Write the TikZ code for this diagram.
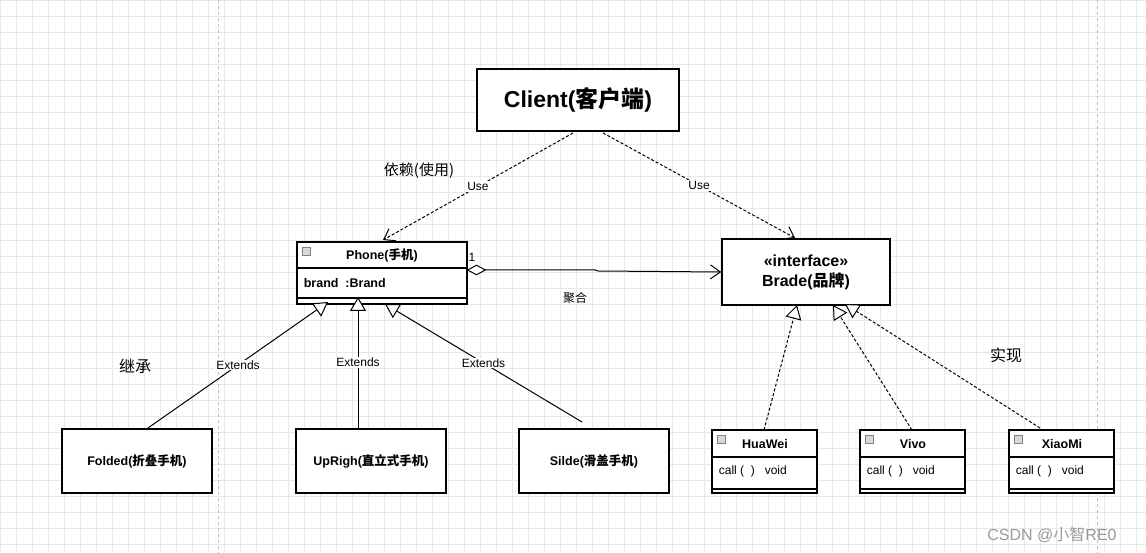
\documentclass[tikz,border=0pt]{standalone}
\usepackage{fontspec}
\setmainfont{Liberation Sans}
\newfontfamily\cjk{Noto Sans CJK SC}
\usetikzlibrary{arrows.meta,shapes.geometric}
\begin{document}
\begin{tikzpicture}[x=1pt,y=-1pt,line width=1pt,
  box/.style={draw,line width=1.4pt,fill=white},
  use/.style={densely dashed,-{Straight Barb[length=10pt,width=14pt]}},
  ext/.style={-{Triangle[open,length=14pt,width=16pt,fill=white]}},
  real/.style={densely dashed,-{Triangle[open,length=14pt,width=16pt,fill=white]}},
  lbl/.style={font=\fontsize{12}{13}\selectfont,fill=white,inner sep=1pt},
  cls/.style={font=\bfseries\fontsize{12.5}{14}\selectfont},
  att/.style={font=\fontsize{12.5}{14}\selectfont,anchor=west},
  icon/.style={draw=gray,fill=gray!30,minimum size=8pt,inner sep=0pt,line width=0.6pt}]
\useasboundingbox (0,0) rectangle (1146,553);
\fill[white] (0,0) rectangle (1146,553);
\foreach \i in {0,16,...,1146} \draw[black!9,line width=0.6pt] (\i,0)--(\i,553);
\foreach \i in {0,16,...,553} \draw[black!9,line width=0.6pt] (0,\i)--(1146,\i);
\draw[black!25,dashed,line width=0.8pt] (218,0)--(218,553) (1097,0)--(1097,553);
% Client
\node[box,minimum width=202pt,minimum height=62pt,font=\bfseries\fontsize{23}{26}\selectfont] (client) at (578,100) {Client({\cjk 客户端})};
% Phone
\draw[box] (297,242) rectangle (467,304);
\draw[line width=1.4pt] (297,268)--(467,268) (297,298)--(467,298);
\node[icon] at (306,251) {};
\node[cls] (phone) at (382,255) {Phone({\cjk 手机})};
\node[att] at (300,283) {\textbf{brand \ :Brand}};
\coordinate (pr) at (467,270);
\coordinate (pt) at (383,240);
% Brade
\node[box,minimum width=168pt,minimum height=66pt,align=center,font=\bfseries\fontsize{16}{20}\selectfont] (brade) at (806,272) {«interface»\\Brade({\cjk 品牌})};
% subclasses
\foreach \n/\x/\t in {folded/137/Folded({\cjk 折叠手机}),upr/371/UpRigh({\cjk 直立式手机}),silde/594/Silde({\cjk 滑盖手机})}{
  \node[fill=white,minimum width=149pt,minimum height=63pt,cls] (\n) at (\x,461) {\t};
  \draw[line width=1.5pt] (\n.north west) rectangle (\n.south east);
}
% implementations
\foreach \n/\x/\t in {hw/712/HuaWei,vv/860/Vivo,xm/1009/XiaoMi}{
  \draw[box] (\x,430) rectangle +(105,63);
  \draw[line width=1.4pt] (\x,457)--+(105,0) (\x,489)--+(105,0);
  \node[icon] at (\x+9,439) {};
  \node[cls] at (\x+53,444) {\t};
  \node[att,font=\fontsize{12}{13}\selectfont] at (\x+3,471) {call ( \ )\ \ \ void};
  \coordinate (\n) at (\x+52,430);
}
% connectors
\draw[use] (573,133) -- node[lbl,pos=0.5] {Use} (pt);
\draw[use] (603,133) -- node[lbl,pos=0.5] {Use} (795,238);
\node[font=\fontsize{15}{17}\selectfont\cjk] at (419,171) {依赖(使用)};
\draw[-{Straight Barb[length=10pt,width=14pt]}] (pr) -- (595,270) -- (598,271) -- (brade.west);
\node[draw,diamond,fill=white,minimum width=18pt,minimum height=10pt,inner sep=0pt,anchor=west] at (467,270) {};
\node[font=\fontsize{12}{13}\selectfont] at (472,257) {1};
\node[font=\fontsize{12}{13}\selectfont\cjk] at (575,298) {聚合};
\draw[ext] (148,428) -- node[lbl,pos=0.5] {Extends} (328,302);
\draw[ext] (358,428) -- node[lbl,pos=0.5] {Extends} (358,297);
\draw[ext] (582,422) -- node[lbl,pos=0.5] {Extends} (385,304);
\node[font=\fontsize{16}{18}\selectfont\cjk] at (135,366) {继承};
\draw[real] (hw) -- (797,305);
\draw[real] (vv) -- (833,305);
\draw[real] (1040,428) -- (845,304);
\node[font=\fontsize{16}{18}\selectfont\cjk] at (1006,355) {实现};
\node[text=black!40,font=\fontsize{16}{18}\selectfont] at (1052,535) {CSDN @{\cjk 小智}RE0};
\end{tikzpicture}
\end{document}
